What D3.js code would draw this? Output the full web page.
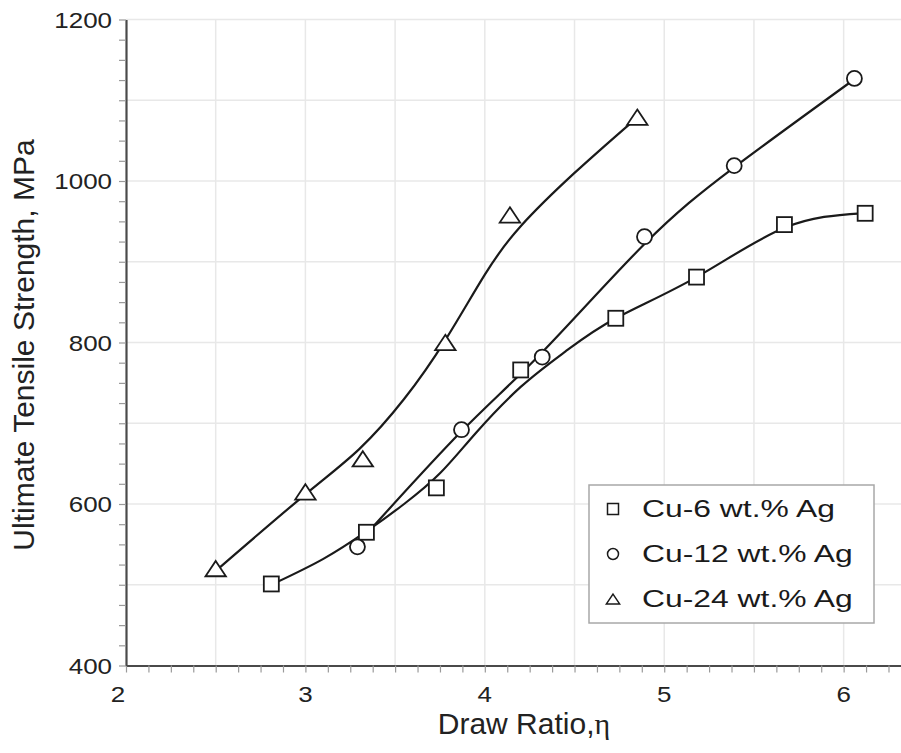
<!DOCTYPE html>
<html>
<head>
<meta charset="utf-8">
<script src="https://cdn.jsdelivr.net/npm/d3@7"></script>
<style>
  body { margin: 0; background: #fff; }
  svg { display: block; }
</style>
</head>
<body>
<div id="chart"></div>
<script>
// Cu-6 wt.% Ag (cuadrados): puntos medidos y curva de ajuste
const cu6Ratio = [2.81, 3.34, 3.73, 4.20, 4.73, 5.18, 5.67, 6.12];
const cu6Strength = [501, 565, 620, 766, 830, 881, 946, 960];
const cu6FitRatio = [2.83, 3.10, 3.34, 3.55, 3.75, 3.95, 4.20, 4.45, 4.73, 5.18, 5.67, 6.10];
const cu6FitStrength = [502, 532, 566, 600, 638, 688, 745, 789, 830, 881, 942, 960];

// Cu-12 wt.% Ag (círculos)
const cu12Ratio = [3.29, 3.87, 4.32, 4.89, 5.39, 6.06];
const cu12Strength = [547, 692, 782, 931, 1019, 1127];
const cu12FitRatio = [3.30, 3.87, 4.32, 4.89, 5.39, 6.06];
const cu12FitStrength = [553, 690, 788, 922, 1017, 1126];

// Cu-24 wt.% Ag (triángulos)
const cu24Ratio = [2.50, 3.00, 3.32, 3.78, 4.14, 4.85];
const cu24Strength = [520, 615, 656, 800, 958, 1079];
const cu24FitRatio = [2.52, 3.00, 3.30, 3.55, 3.78, 4.00, 4.20, 4.50, 4.82];
const cu24FitStrength = [521, 612, 668, 730, 803, 884, 944, 1010, 1073];

const seriesNames = ["Cu-6 wt.% Ag", "Cu-12 wt.% Ag", "Cu-24 wt.% Ag"];
const seriesShapes = ["square", "circle", "triangle"];
const xTickLabels = [2, 3, 4, 5, 6];
const yTickLabels = [400, 600, 800, 1000, 1200];

const width = 901;
const height = 753;
const ink = "#1a1a1a";

const x = d3.scaleLinear().domain([2, 6.4]).range([126, 915.4]);
const y = d3.scaleLinear().domain([400, 1200]).range([665.5, 19.5]);

const svg = d3.select("#chart").append("svg")
    .attr("width", width)
    .attr("height", height)
    .attr("font-family", "'Liberation Sans', Arial, sans-serif");

/**
 * Dibuja un marcador (cuadrado, círculo o triángulo) dentro de un grupo.
 * @param {Object} g - selección d3 del grupo.
 * @param {string} shape - tipo de marcador.
 * @param {number} s - medio tamaño del marcador.
 */
function drawMarker(g, shape, s) {
    if (shape === "square") {
        g.append("rect").attr("x", -s).attr("y", -s).attr("width", 2 * s).attr("height", 2 * s);
    } else if (shape === "circle") {
        g.append("circle").attr("r", s);
    } else {
        const h = s * 0.9;
        g.append("path").attr("d", `M0,${-h}L${s * 1.2},${h}L${-s * 1.2},${h}Z`);
    }
}

// Rejilla
svg.append("g").selectAll("line")
    .data(d3.range(500, 1201, 100))
    .join("line")
    .attr("x1", x(2)).attr("x2", x(6.4))
    .attr("y1", d => y(d)).attr("y2", d => y(d))
    .attr("stroke", "#e8e8e8").attr("stroke-width", 1.5);

svg.append("g").selectAll("line")
    .data(d3.range(2.5, 6.41, 0.5))
    .join("line")
    .attr("x1", d => x(d)).attr("x2", d => x(d))
    .attr("y1", y(400)).attr("y2", y(1200))
    .attr("stroke", "#e8e8e8").attr("stroke-width", 1.5);

// Curvas de ajuste
const line = d3.line()
    .x(d => x(d[0]))
    .y(d => y(d[1]))
    .curve(d3.curveNatural);

const fits = [
    d3.zip(cu6FitRatio, cu6FitStrength),
    d3.zip(cu12FitRatio, cu12FitStrength),
    d3.zip(cu24FitRatio, cu24FitStrength)
];

svg.append("g").selectAll("path")
    .data(fits)
    .join("path")
    .attr("d", line)
    .attr("fill", "none")
    .attr("stroke", ink)
    .attr("stroke-width", 2.2);

// Puntos medidos
const points = [
    d3.zip(cu6Ratio, cu6Strength),
    d3.zip(cu12Ratio, cu12Strength),
    d3.zip(cu24Ratio, cu24Strength)
];

points.forEach((pts, i) => {
    svg.append("g")
        .attr("fill", "#fff").attr("stroke", ink).attr("stroke-width", 1.8)
        .selectAll("g")
        .data(pts)
        .join("g")
        .attr("transform", d => `translate(${x(d[0])},${y(d[1])})`)
        .each(function () { drawMarker(d3.select(this), seriesShapes[i], i === 2 ? 8.5 : 7.5); });
});

// Ejes con marcas menores
const xAxis = d3.axisBottom(x)
    .tickValues(d3.range(2, 6.41, 0.125))
    .tickSize(7).tickSizeOuter(0).tickFormat("");
const yAxis = d3.axisLeft(y)
    .tickValues(d3.range(400, 1201, 25))
    .tickSize(7).tickSizeOuter(0).tickFormat("");

function styleAxis(g) {
    g.select(".domain").attr("stroke", "#4a4a4a").attr("stroke-width", 2.2);
    g.selectAll(".tick line").attr("stroke", "#9a9a9a").attr("stroke-width", 1.2);
}

svg.append("g").attr("transform", `translate(0,${y(400)})`).call(xAxis).call(styleAxis);
svg.append("g").attr("transform", `translate(${x(2)},0)`).call(yAxis).call(styleAxis);

// Etiquetas de los ejes (un poco anchas como en el original)
svg.append("g").selectAll("text")
    .data(xTickLabels)
    .join("text")
    .attr("transform", (d, i) => `translate(${x(d) - (i === 0 ? 8 : 0)},702) scale(1.18,1)`)
    .attr("text-anchor", "middle")
    .attr("font-size", 22)
    .attr("fill", "#222")
    .text(d => d);

svg.append("g").selectAll("text")
    .data(yTickLabels)
    .join("text")
    .attr("transform", d => `translate(112,${y(d) + 8}) scale(1.18,1)`)
    .attr("text-anchor", "end")
    .attr("font-size", 22)
    .attr("fill", "#222")
    .text(d => d);

// Títulos
const xTitle = svg.append("text")
    .attr("x", 524).attr("y", 734)
    .attr("text-anchor", "middle")
    .attr("font-size", 30)
    .attr("fill", "#222");
xTitle.append("tspan").text("Draw Ratio,");
xTitle.append("tspan").attr("font-family", "'Liberation Serif', 'DejaVu Serif', serif").text("η");

svg.append("text")
    .attr("transform", "translate(34,345) rotate(-90)")
    .attr("text-anchor", "middle")
    .attr("font-size", 30)
    .attr("fill", "#222")
    .text("Ultimate Tensile Strength, MPa");

// Leyenda
const legend = svg.append("g");
legend.append("rect")
    .attr("x", 589).attr("y", 485)
    .attr("width", 285).attr("height", 138)
    .attr("fill", "#fff").attr("stroke", "#a8a8a8").attr("stroke-width", 1.5);

const rowY = [509, 554, 599];
seriesNames.forEach((name, i) => {
    const sym = legend.append("g")
        .attr("transform", `translate(613,${rowY[i]})`)
        .attr("fill", "#fff").attr("stroke", ink).attr("stroke-width", 1.5);
    drawMarker(sym, seriesShapes[i], 5.5);
    legend.append("text")
        .attr("transform", `translate(642,${rowY[i] + 8}) scale(1.3,1)`)
        .attr("font-size", 24.5)
        .attr("fill", "#1a1a1a")
        .text(name);
});
</script>
</body>
</html>
